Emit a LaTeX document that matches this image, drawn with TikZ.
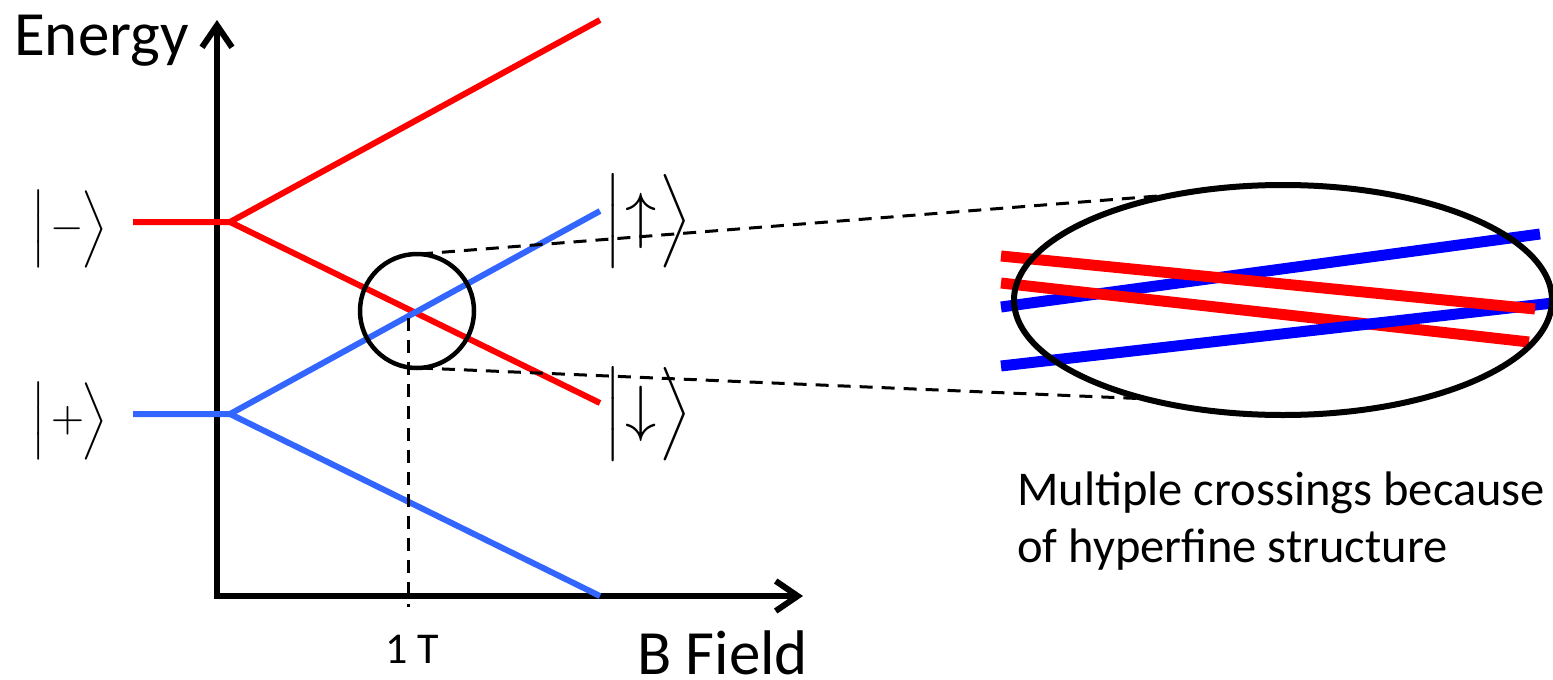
\documentclass[tikz,border=0pt]{standalone}
\usepackage{graphicx}
\usepackage{fontspec}
\setmainfont{Carlito}
\usetikzlibrary{arrows.meta,shapes.geometric}
\definecolor{lblue}{RGB}{51,102,255}
\definecolor{dred}{RGB}{255,0,0}
\definecolor{dblue}{RGB}{0,0,255}
\tikzset{
  axis/.style={line width=6pt, line join=miter, {Straight Barb[length=22pt,width=30pt]}-{Straight Barb[length=22pt,width=30pt]}},
  redl/.style={line width=6pt, draw=dred},
  bluel/.style={line width=6pt, draw=lblue},
  zred/.style={line width=11pt, draw=dred},
  zblue/.style={line width=11pt, draw=dblue},
  dashln/.style={line width=3pt, dash pattern=on 13pt off 9pt},
  ket/.style={inner sep=0pt, font=\fontsize{10}{12}\selectfont},
  bigtxt/.style={inner sep=0pt, anchor=base west, font=\fontsize{63}{70}\selectfont},
  midtxt/.style={inner sep=0pt, anchor=base west, font=\fontsize{48.5}{57}\selectfont},
  smalltxt/.style={inner sep=0pt, anchor=base west, font=\fontsize{44}{50}\selectfont}
}
\begin{document}
\begin{tikzpicture}[x=1pt,y=-1pt]
\useasboundingbox (0,0) rectangle (1553,680);
% axes
\coordinate (ytip) at (217,20);
\coordinate (O) at (217,596);
\coordinate (xtip) at (803,596);
\draw[axis] (ytip) -- (O) -- (xtip);
% energy levels
\coordinate (rl) at (133,222);
\coordinate (rm) at (230,222);
\coordinate (ru) at (600,20);
\coordinate (rd) at (600,403);
\coordinate (bl) at (133,414);
\coordinate (bm) at (230,414);
\coordinate (bu) at (600,211);
\coordinate (bd) at (600,596);
\draw[redl] (rl) -- (rm) -- (ru);
\draw[redl] (rm) -- (rd);
\draw[bluel] (bl) -- (bm) -- (bu);
\draw[bluel] (bm) -- (bd);
% crossing circle
\node[circle, draw, line width=4.5pt, minimum size=114pt, inner sep=0pt] (zc) at (417,311) {};
\coordinate (zt) at (420,254);
\coordinate (zb) at (420,368);
\coordinate (et) at (1158,196);
\coordinate (eb) at (1150,399);
\draw[dashln] (zt) -- (et);
\draw[dashln] (zb) -- (eb);
\coordinate (vt) at (408,318);
\coordinate (vb) at (408,607);
\draw[dashln] (vt) -- (vb);
% zoomed lines
\coordinate (b1a) at (1001,307); \coordinate (b1b) at (1540,234);
\coordinate (r2a) at (1001,283); \coordinate (r2b) at (1529,342);
\coordinate (b2a) at (1001,366); \coordinate (b2b) at (1553,303);
\coordinate (r1a) at (1001,256); \coordinate (r1b) at (1535,309);
\draw[zblue] (b1a) -- (b1b);
\draw[zred] (r2a) -- (r2b);
\draw[zblue] (b2a) -- (b2b);
\draw[zred] (r1a) -- (r1b);
\node[ellipse, draw, line width=6pt, minimum width=538pt, minimum height=230pt, inner sep=0pt] (ell) at (1283,300) {};
% kets
\node[ket] (km) at (70,229) {\scalebox{4.3}{$\Big|\mkern2mu{-}\mkern-1mu\Big\rangle$}};
\node[ket] (kp) at (70,421) {\scalebox{4.3}{$\Big|\mkern2mu{+}\mkern-1mu\Big\rangle$}};
\node[ket] (ku) at (648,221) {\scalebox{5.2}{$\Big|\mkern1mu\mathord{\raisebox{-0.5pt}{\scalebox{1.2}{$\uparrow$}}}\mkern1mu\Big\rangle$}};
\node[ket] (kd) at (648,414) {\scalebox{5.2}{$\Big|\mkern1mu\mathord{\raisebox{-0.5pt}{\scalebox{1.2}{$\downarrow$}}}\mkern1mu\Big\rangle$}};
% labels
\node[bigtxt] (en) at (14,55) {Energy};
\node[bigtxt] (bf) at (637,674) {B Field};
\node[smalltxt] (one) at (385,663) {1 T};
\node[midtxt] (m1) at (1017,505) {Multiple crossings because};
\node[midtxt] (m2) at (1017,562) {of hyperfine structure};
\end{tikzpicture}
\end{document}
